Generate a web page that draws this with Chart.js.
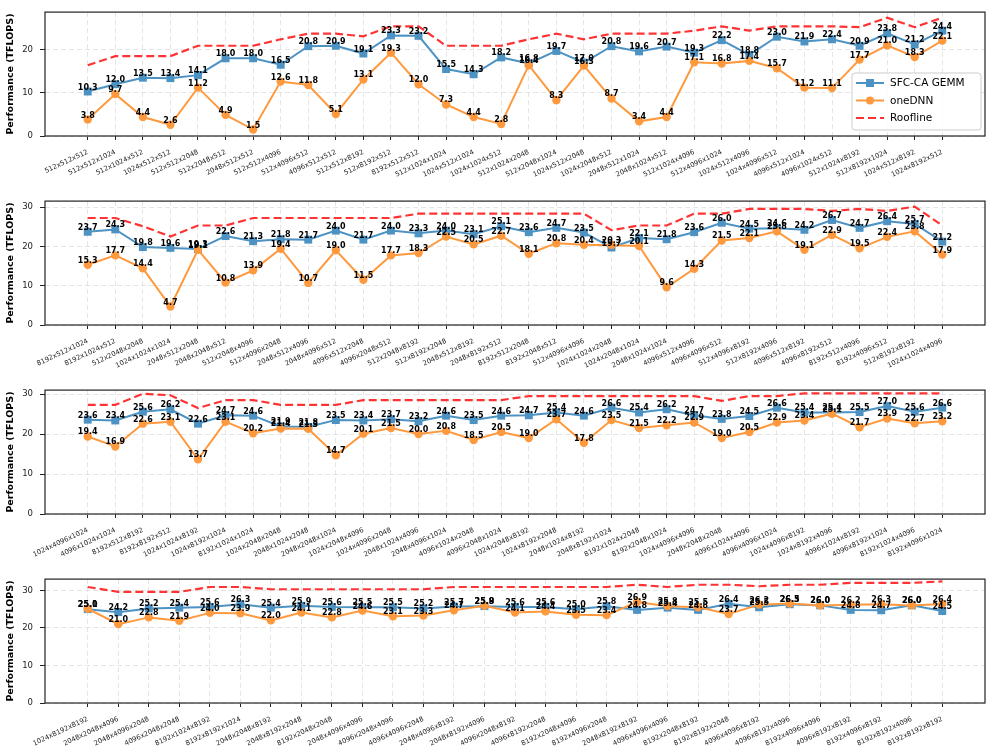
<!DOCTYPE html>
<html>
<head>
<meta charset="utf-8">
<script src="https://cdn.jsdelivr.net/npm/chart.js@4.4.1/dist/chart.umd.min.js"></script>
<style>
html, body { margin: 0; padding: 0; background: #fff; overflow: hidden; }
.panel { position: relative; width: 993px; height: 189px; }
</style>
</head>
<body>
<div class="panel"><canvas id="c1"></canvas></div>
<div class="panel"><canvas id="c2"></canvas></div>
<div class="panel"><canvas id="c3"></canvas></div>
<div class="panel"><canvas id="c4"></canvas></div>
<script>
// panel 1
const labels1 = ['512x512x512', '512x512x1024', '512x1024x512', '1024x512x512', '512x512x2048', '512x2048x512',
    '2048x512x512', '512x512x4096', '512x4096x512', '4096x512x512', '512x512x8192', '512x8192x512', '8192x512x512',
    '512x1024x1024', '1024x512x1024', '1024x1024x512', '512x1024x2048', '512x2048x1024', '1024x512x2048',
    '1024x2048x512', '2048x512x1024', '2048x1024x512', '512x1024x4096', '512x4096x1024', '1024x512x4096',
    '1024x4096x512', '4096x512x1024', '4096x1024x512', '512x1024x8192', '512x8192x1024', '1024x512x8192', '1024x8192x512']
const sfc1 = [10.3, 12.0, 13.5, 13.4, 14.1, 18.0, 18.0, 16.5, 20.8, 20.9, 19.1, 23.3, 23.2, 15.5, 14.3, 18.2,
    16.8, 19.7, 17.0, 20.8, 19.6, 20.7, 19.3, 22.2, 18.8, 23.0, 21.9, 22.4, 20.9, 23.8, 21.2, 24.4]
const dnn1 = [3.8, 9.7, 4.4, 2.6, 11.2, 4.9, 1.5, 12.6, 11.8, 5.1, 13.1, 19.3, 12.0, 7.3, 4.4, 2.8,
    16.4, 8.3, 16.3, 8.7, 3.4, 4.4, 17.1, 16.8, 17.4, 15.7, 11.2, 11.1, 17.7, 21.0, 18.3, 22.1]
const roof1 = [16.4, 18.5, 18.5, 18.5, 20.9, 20.9, 20.9, 22.4, 23.7, 23.7, 23.1, 25.4, 25.4, 20.9, 20.9, 20.9,
    22.4, 23.7, 22.4, 23.7, 23.7, 23.7, 24.4, 25.4, 24.4, 25.4, 25.4, 25.4, 25.2, 27.4, 25.2, 27.4]

// panel 2
const labels2 = ['8192x512x1024', '8192x1024x512', '512x2048x2048', '1024x1024x1024', '2048x512x2048', '2048x2048x512',
    '512x2048x4096', '512x4096x2048', '2048x512x4096', '2048x4096x512', '4096x512x2048', '4096x2048x512',
    '512x2048x8192', '512x8192x2048', '2048x512x8192', '2048x8192x512', '8192x512x2048', '8192x2048x512',
    '512x4096x4096', '1024x1024x2048', '1024x2048x1024', '2048x1024x1024', '4096x512x4096', '4096x4096x512',
    '512x4096x8192', '512x8192x4096', '4096x512x8192', '4096x8192x512', '8192x512x4096', '8192x4096x512',
    '512x8192x8192', '1024x1024x4096']
const sfc2 = [23.7, 24.3, 19.8, 19.6, 19.3, 22.6, 21.3, 21.8, 21.7, 24.0, 21.7, 24.0, 23.3, 24.0, 23.1, 25.1,
    23.6, 24.7, 23.5, 19.7, 22.1, 21.8, 23.6, 26.0, 24.5, 24.6, 24.2, 26.7, 24.7, 26.4, 25.7, 21.2]
const dnn2 = [15.3, 17.7, 14.4, 4.7, 19.1, 10.8, 13.9, 19.4, 10.7, 19.0, 11.5, 17.7, 18.3, 22.5, 20.5, 22.7,
    18.1, 20.8, 20.4, 20.3, 20.1, 9.6, 14.3, 21.5, 22.1, 23.8, 19.1, 22.9, 19.5, 22.4, 23.8, 17.9]
const roof2 = [27.2, 27.2, 25.1, 22.5, 25.3, 25.3, 27.2, 27.2, 27.2, 27.2, 27.2, 27.2, 28.3, 28.3, 28.3, 28.3,
    28.3, 28.3, 28.3, 24.1, 25.3, 25.3, 28.3, 28.3, 29.5, 29.5, 29.5, 29.0, 29.5, 29.0, 30.1, 25.3]

// panel 3
const labels3 = ['1024x4096x1024', '4096x1024x1024', '8192x512x8192', '8192x8192x512', '1024x1024x8192', '1024x8192x1024',
    '8192x1024x1024', '1024x2048x2048', '2048x1024x2048', '2048x2048x1024', '1024x2048x4096', '1024x4096x2048',
    '2048x1024x4096', '2048x4096x1024', '4096x1024x2048', '4096x2048x1024', '1024x2048x8192', '1024x8192x2048',
    '2048x1024x8192', '2048x8192x1024', '8192x1024x2048', '8192x2048x1024', '1024x4096x4096', '2048x2048x2048',
    '4096x1024x4096', '4096x4096x1024', '1024x4096x8192', '1024x8192x4096', '4096x1024x8192', '4096x8192x1024',
    '8192x1024x4096', '8192x4096x1024']
const sfc3 = [23.6, 23.4, 25.6, 26.2, 22.6, 24.7, 24.6, 21.9, 21.8, 23.5, 23.4, 23.7, 23.2, 24.6, 23.5, 24.6,
    24.7, 25.4, 24.6, 26.6, 25.4, 26.2, 24.7, 23.8, 24.5, 26.6, 25.4, 25.4, 25.5, 27.0, 25.6, 26.6]
const dnn3 = [19.4, 16.9, 22.6, 23.1, 13.7, 23.1, 20.2, 21.4, 21.3, 14.7, 20.1, 21.5, 20.0, 20.8, 18.5, 20.5,
    19.0, 23.7, 17.8, 23.5, 21.5, 22.2, 22.9, 19.0, 20.5, 22.9, 23.4, 25.1, 21.7, 23.9, 22.7, 23.2]
const roof3 = [27.3, 27.3, 30.1, 29.7, 26.5, 28.5, 28.5, 27.3, 27.3, 27.3, 28.5, 28.5, 28.5, 28.5, 28.5, 28.5,
    29.5, 29.5, 29.5, 29.5, 29.5, 29.5, 29.5, 28.3, 29.5, 29.5, 30.2, 30.2, 30.2, 30.2, 30.2, 30.2]

// panel 4
const labels4 = ['1024x8192x8192', '2048x2048x4096', '2048x4096x2048', '4096x2048x2048', '8192x1024x8192', '8192x8192x1024',
    '2048x2048x8192', '2048x8192x2048', '8192x2048x2048', '2048x4096x4096', '4096x2048x4096', '4096x4096x2048',
    '2048x4096x8192', '2048x8192x4096', '4096x2048x8192', '4096x8192x2048', '8192x2048x4096', '8192x4096x2048',
    '2048x8192x8192', '4096x4096x4096', '8192x2048x8192', '8192x8192x2048', '4096x4096x8192', '4096x8192x4096',
    '8192x4096x4096', '4096x8192x8192', '8192x4096x8192', '8192x8192x4096', '8192x8192x8192']
const sfc4 = [25.0, 24.2, 25.2, 25.4, 25.6, 26.3, 25.4, 25.9, 25.6, 25.5, 25.5, 25.2, 25.7, 25.8, 25.6,
    25.6, 25.0, 25.8, 24.8, 25.4, 24.8, 26.4, 25.5, 26.3, 26.0, 24.8, 24.7, 26.0, 24.5]
const dnn4 = [25.1, 21.0, 22.8, 21.9, 24.0, 23.9, 22.0, 24.1, 22.8, 24.6, 23.1, 23.3, 24.7, 25.9, 24.1,
    24.4, 23.5, 23.4, 26.9, 25.8, 25.5, 23.7, 26.2, 26.5, 26.0, 26.2, 26.3, 26.0, 26.4]
const roof4 = [30.9, 29.6, 29.6, 29.6, 30.9, 30.9, 30.3, 30.3, 30.3, 30.3, 30.3, 30.3, 30.9, 30.9, 30.9,
    30.9, 30.9, 30.9, 31.5, 30.9, 31.5, 31.5, 31.1, 31.5, 31.5, 32.0, 32.0, 32.0, 32.4]

const yMaxes = [28.7, 31.5, 31.0, 33.0]
const yTicks = [0, 10, 20, 30]
const seriesNames = ['SFC-CA GEMM', 'oneDNN', 'Roofline']

const BLUE = '#4c92c3'
const ORANGE = '#ff993e'
const RED = 'rgba(255, 0, 0, 0.8)'
const GRID = '#e2e2e2'
const FONT = '"DejaVu Sans", sans-serif'

Chart.defaults.font.family = FONT
Chart.defaults.color = '#222'

function toPoints(values) {
    return values.map((v, i) => ({ x: i, y: v }))
}

// value labels above markers, box around the plot, legend for the first panel
function decoPlugin(showLegend) {
    return {
        id: 'deco',
        afterDatasetsDraw(chart) {
            const ctx = chart.ctx
            ctx.save()
            ctx.font = 'bold 8px ' + FONT
            ctx.textAlign = 'center'
            ctx.textBaseline = 'alphabetic'
            ctx.fillStyle = '#000'
            chart.data.datasets.forEach((ds, di) => {
                if (!ds.valueLabels) return
                chart.getDatasetMeta(di).data.forEach((pt, i) => {
                    ctx.fillText(ds.data[i].y.toFixed(1), pt.x, pt.y - 2)
                })
            })
            ctx.restore()
        },
        afterDraw(chart) {
            const ctx = chart.ctx
            const a = chart.chartArea
            ctx.save()
            ctx.strokeStyle = '#222'
            ctx.lineWidth = 1.2
            ctx.strokeRect(a.left, a.top, a.right - a.left, a.bottom - a.top)

            if (showLegend) {
                const w = 129, h = 57
                const x = a.right - 4 - w, y = a.bottom - 6 - h
                ctx.beginPath()
                ctx.roundRect(x, y, w, h, 3)
                ctx.fillStyle = 'rgba(255,255,255,0.85)'
                ctx.fill()
                ctx.strokeStyle = '#cccccc'
                ctx.lineWidth = 1
                ctx.stroke()
                const rows = [y + 10, y + 27.5, y + 45]
                const x0 = x + 4, x1 = x + 32, xm = x + 18
                chart.data.datasets.forEach((ds, i) => {
                    const ry = rows[i]
                    ctx.save()
                    ctx.strokeStyle = ds.borderColor
                    ctx.lineWidth = ds.borderWidth
                    ctx.setLineDash(ds.borderDash || [])
                    ctx.beginPath()
                    ctx.moveTo(x0, ry)
                    ctx.lineTo(x1, ry)
                    ctx.stroke()
                    ctx.setLineDash([])
                    ctx.fillStyle = ds.borderColor
                    if (ds.pointStyle === 'rect') {
                        ctx.fillRect(xm - 4, ry - 4, 8, 8)
                    } else if (ds.pointRadius > 0) {
                        ctx.beginPath()
                        ctx.arc(xm, ry, 4, 0, Math.PI * 2)
                        ctx.fill()
                    }
                    ctx.fillStyle = '#000'
                    ctx.font = '10.5px ' + FONT
                    ctx.textAlign = 'left'
                    ctx.textBaseline = 'middle'
                    ctx.fillText(ds.label, x + 38, ry + 0.5)
                    ctx.restore()
                })
            }
            ctx.restore()
        }
    }
}

function makePanel(canvasId, labels, sfc, dnn, roof, yMax, showLegend) {
    const n = labels.length
    const ctx = document.getElementById(canvasId).getContext('2d')
    return new Chart(ctx, {
        type: 'line',
        data: {
            datasets: [{
                label: seriesNames[0],
                data: toPoints(sfc),
                borderColor: BLUE,
                backgroundColor: BLUE,
                borderWidth: 2,
                pointStyle: 'rect',
                pointRadius: 5.6,
                pointBorderWidth: 0,
                valueLabels: true,
                order: 2,
            }, {
                label: seriesNames[1],
                data: toPoints(dnn),
                borderColor: ORANGE,
                backgroundColor: ORANGE,
                borderWidth: 2,
                pointStyle: 'circle',
                pointRadius: 4.2,
                pointBorderWidth: 0,
                valueLabels: true,
                order: 1,
            }, {
                label: seriesNames[2],
                data: toPoints(roof),
                borderColor: RED,
                backgroundColor: RED,
                borderWidth: 2.2,
                borderDash: [8, 4],
                pointRadius: 0,
                order: 0,
            }]
        },
        options: {
            responsive: true,
            maintainAspectRatio: false,
            animation: false,
            events: [],
            layout: { padding: { top: 7, right: 8, left: 0, bottom: 0 } },
            plugins: { legend: { display: false }, tooltip: { enabled: false } },
            scales: {
                x: {
                    type: 'linear',
                    min: -0.05 * (n - 1),
                    max: 1.05 * (n - 1),
                    afterBuildTicks: scale => { scale.ticks = labels.map((_, i) => ({ value: i })) },
                    afterFit: scale => { scale.height = 53 },
                    ticks: {
                        autoSkip: false,
                        minRotation: 25,
                        maxRotation: 25,
                        padding: 8,
                        color: '#222',
                        font: { size: 6.8 },
                        callback: value => labels[value],
                    },
                    grid: { color: GRID, lineWidth: 0.9, tickLength: 4, tickColor: '#222', tickWidth: 1, tickBorderDash: [] },
                    border: { display: false, dash: [5, 3] },
                },
                y: {
                    min: 0,
                    max: yMax,
                    afterBuildTicks: scale => { scale.ticks = yTicks.filter(t => t <= yMax).map(v => ({ value: v })) },
                    afterFit: scale => { scale.width = 45 },
                    ticks: { padding: 7, color: '#222', font: { size: 8.5 } },
                    grid: { color: GRID, lineWidth: 0.9, tickLength: 5, tickColor: '#222', tickWidth: 1, tickBorderDash: [] },
                    border: { display: false, dash: [5, 3] },
                    title: {
                        display: true,
                        text: 'Performance (TFLOPS)',
                        color: '#000',
                        font: { size: 9.5, weight: 'bold' },
                        padding: { top: 5, bottom: 0 },
                    },
                },
            },
        },
        plugins: [decoPlugin(showLegend)],
    })
}

makePanel('c1', labels1, sfc1, dnn1, roof1, yMaxes[0], true)
makePanel('c2', labels2, sfc2, dnn2, roof2, yMaxes[1], false)
makePanel('c3', labels3, sfc3, dnn3, roof3, yMaxes[2], false)
makePanel('c4', labels4, sfc4, dnn4, roof4, yMaxes[3], false)
</script>
</body>
</html>
